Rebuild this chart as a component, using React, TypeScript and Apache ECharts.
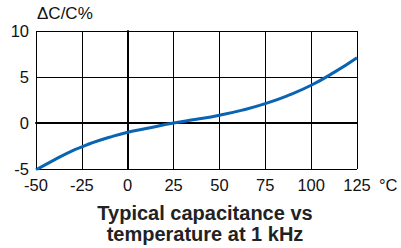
import React, { useEffect, useRef } from "react";
import * as echarts from "echarts";

const temps = [-50, -40, -30, -25, -20, -10, 0, 10, 25, 37.5, 50, 62.5, 75, 87.5, 100, 112.5, 125];
const capChange = [-5.1, -4.0, -3.0, -2.6, -2.2, -1.55, -1.0, -0.6, 0, 0.4, 0.85, 1.4, 2.1, 3.0, 4.1, 5.5, 7.1];
const xTicks = [-50, -25, 0, 25, 50, 75, 100, 125];
const yTicks = [-5, 0, 5, 10];

const FONT = "'Liberation Sans', Arial, Helvetica, sans-serif";

export default function App() {
  const ref = useRef<HTMLDivElement>(null);
  useEffect(() => {
    const chart = echarts.init(ref.current!, null, { renderer: "svg" });
    chart.setOption({
      animation: false,
      backgroundColor: "#ffffff",
      grid: { left: 36, right: 44, top: 31, bottom: 79 },
      xAxis: {
        type: "value",
        min: xTicks[0],
        max: xTicks[xTicks.length - 1],
        interval: 25,
        axisLine: { show: true, lineStyle: { color: "#000", width: 2 } },
        axisTick: { show: false },
        splitLine: { show: true, lineStyle: { color: "#000", width: 1 } },
        axisLabel: { color: "#111", fontSize: 16.5, fontFamily: FONT, margin: 7 },
      },
      yAxis: {
        type: "value",
        min: yTicks[0],
        max: yTicks[yTicks.length - 1],
        interval: 5,
        axisLine: { show: true, lineStyle: { color: "#000", width: 2 } },
        axisTick: { show: false },
        splitLine: { show: true, lineStyle: { color: "#000", width: 1 } },
        axisLabel: { color: "#111", fontSize: 16.5, fontFamily: FONT, margin: 7 },
      },
      graphic: [
        { type: "text", left: 37, top: 5, style: { text: "ΔC/C%", font: `17px ${FONT}`, fill: "#111" } },
        { type: "text", left: 379, top: 176, style: { text: "°C", font: `16.5px ${FONT}`, fill: "#111" } },
        {
          type: "text",
          x: 205,
          y: 202,
          style: {
            text: "Typical capacitance vs\ntemperature at 1 kHz",
            font: `bold 20px ${FONT}`,
            fill: "#222",
            align: "center",
            verticalAlign: "top",
            lineHeight: 21,
          },
        },
      ],
      series: [
        {
          type: "line",
          data: temps.map((t, i) => [t, capChange[i]]),
          smooth: true,
          showSymbol: false,
          lineStyle: { color: "#0a64b4", width: 3 },
          clip: true,
        },
      ],
    });
    return () => chart.dispose();
  }, []);
  return <div ref={ref} style={{ width: 401, height: 248, position: "absolute", left: 0, top: 0 }} />;
}
